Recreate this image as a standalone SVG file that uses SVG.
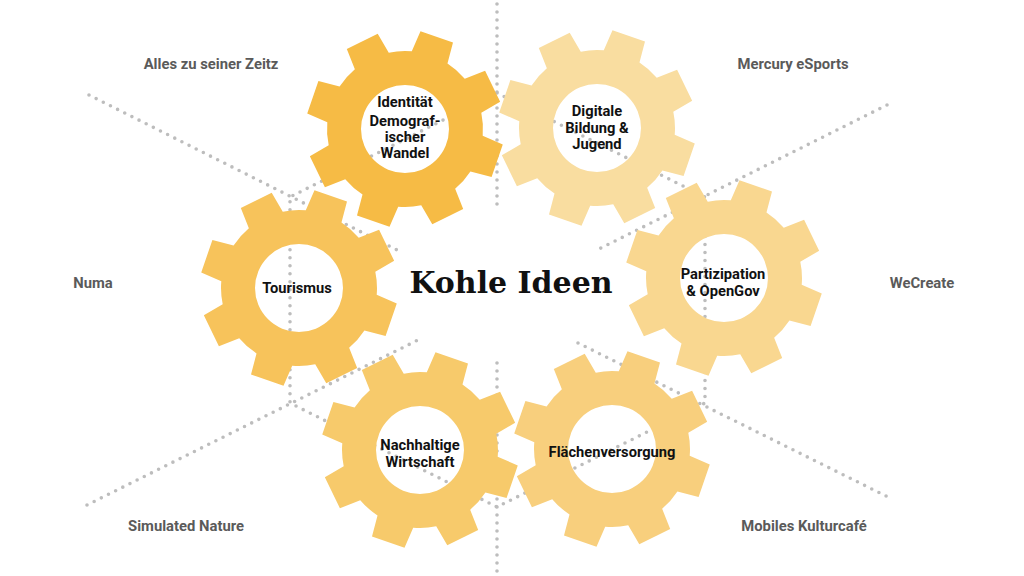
<svg xmlns="http://www.w3.org/2000/svg" xmlns:xlink="http://www.w3.org/1999/xlink" width="1024" height="576" viewBox="0 0 1024 576">
<style>
.dots{fill:none;stroke:#bdbdbd;stroke-width:3.6;stroke-linecap:round;stroke-dasharray:0 8}
.glabel{font-family:Roboto,"Liberation Sans",sans-serif;font-weight:700;font-size:14.7px;fill:#111;text-anchor:middle}
.side{font-family:Roboto,"Liberation Sans",sans-serif;font-weight:700;font-size:14.8px;fill:#5a5a5a;text-anchor:middle}
.title{font-family:"DejaVu Serif","Liberation Serif",serif;font-weight:700;font-size:30px;fill:#111;text-anchor:middle}
</style>
<defs>
<path id="gear" fill-rule="evenodd" d="M77.70,6.80 L97.78,15.49 L86.59,48.00 L65.42,42.48 A78,78 0 0 1 50.14,59.75 L58.19,80.09 L27.29,95.16 L16.22,76.30 A78,78 0 0 1 -6.80,77.70 L-15.49,97.78 L-48.00,86.59 L-42.48,65.42 A78,78 0 0 1 -59.75,50.14 L-80.09,58.19 L-95.16,27.29 L-76.30,16.22 A78,78 0 0 1 -77.70,-6.80 L-97.78,-15.49 L-86.59,-48.00 L-65.42,-42.48 A78,78 0 0 1 -50.14,-59.75 L-58.19,-80.09 L-27.29,-95.16 L-16.22,-76.30 A78,78 0 0 1 6.80,-77.70 L15.49,-97.78 L48.00,-86.59 L42.48,-65.42 A78,78 0 0 1 59.75,-50.14 L80.09,-58.19 L95.16,-27.29 L76.30,-16.22 A78,78 0 0 1 77.70,6.80 Z M44,0 A44,44 0 1 0 -44,0 A44,44 0 1 0 44,0 Z"/>
</defs>
<rect width="1024" height="576" fill="#ffffff"/>
<g id="connectors">
<line class="dots" x1="497" y1="4" x2="497" y2="210"/>
<line class="dots" x1="497" y1="363" x2="497" y2="574"/>
<line class="dots" x1="89" y1="95" x2="403" y2="253"/>
<line class="dots" x1="887" y1="105" x2="597" y2="250"/>
<line class="dots" x1="87" y1="505" x2="422" y2="338"/>
<line class="dots" x1="578" y1="343" x2="890" y2="498"/>
<polygon class="dots" points="497,93 705,197 705,403 497,507 290,403 290,197"/>
</g>
<g id="gear-tourismus">
<use xlink:href="#gear" href="#gear" transform="translate(299,288)" fill="#f7c35b"/>
<text class="glabel" x="297" y="293">Tourismus</text>
</g>
<g id="gear-nachhaltige">
<use xlink:href="#gear" href="#gear" transform="translate(420,450)" fill="#f7ca6b"/>
<text class="glabel" x="420" y="450">Nachhaltige</text>
<text class="glabel" x="420" y="467">Wirtschaft</text>
</g>
<g id="gear-flaechen">
<use xlink:href="#gear" href="#gear" transform="translate(612,449)" fill="#f8cf7d"/>
<text class="glabel" x="612" y="457">Flächenversorgung</text>
</g>
<g id="gear-partizipation">
<use xlink:href="#gear" href="#gear" transform="translate(724,278)" fill="#f9d790"/>
<text class="glabel" x="723" y="279">Partizipation</text>
<text class="glabel" x="723" y="296">&amp; OpenGov</text>
</g>
<g id="gear-digitale">
<use xlink:href="#gear" href="#gear" transform="translate(597,128)" fill="#f9dda0"/>
<text class="glabel" x="597" y="116">Digitale</text>
<text class="glabel" x="597" y="132.5">Bildung &amp;</text>
<text class="glabel" x="597" y="149">Jugend</text>
</g>
<g id="gear-identitaet">
<use xlink:href="#gear" href="#gear" transform="translate(405,129)" fill="#f6bb45"/>
<text class="glabel" x="405" y="107">Identität</text>
<text class="glabel" x="405" y="126">Demograf-</text>
<text class="glabel" x="405" y="142">ischer</text>
<text class="glabel" x="405" y="158">Wandel</text>
</g>
<g id="center">
<text class="title" x="511" y="293">Kohle Ideen</text>
</g>
<g id="labels">
<text class="side" x="211" y="69">Alles zu seiner Zeitz</text>
<text class="side" x="793" y="69">Mercury eSports</text>
<text class="side" x="93" y="288">Numa</text>
<text class="side" x="922" y="288">WeCreate</text>
<text class="side" x="186" y="531">Simulated Nature</text>
<text class="side" x="804" y="531">Mobiles Kulturcafé</text>
</g>
</svg>
